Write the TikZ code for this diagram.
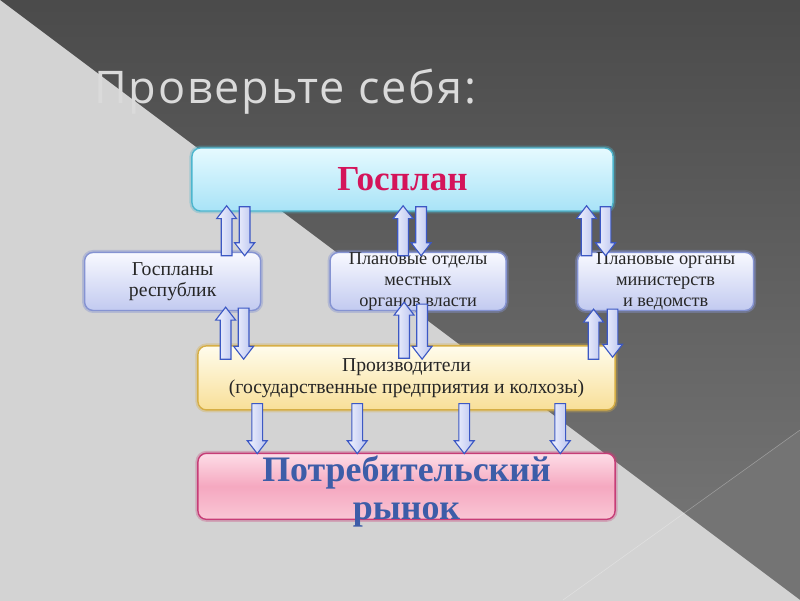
\documentclass[tikz,border=0pt]{standalone}
\usepackage{fontspec}
\setmainfont{Liberation Serif}
\newfontfamily\titlefont[LetterSpace=4]{Open Sans}
\usetikzlibrary{positioning,calc}

\definecolor{bgtop}{HTML}{4A4A4A}
\definecolor{bgmid}{HTML}{535353}
\definecolor{bgbot}{HTML}{7A7A7A}
\definecolor{bglow}{HTML}{747474}
\definecolor{bglight}{HTML}{D3D3D3}
\definecolor{titlegray}{HTML}{DADADA}
\definecolor{gostop}{HTML}{E6FAFF}
\definecolor{gosbot}{HTML}{A8E3F7}
\definecolor{gosline}{HTML}{4DB6CE}
\definecolor{gostext}{HTML}{D4145A}
\definecolor{midtop}{HTML}{F8F9FF}
\definecolor{midbot}{HTML}{C2CAF0}
\definecolor{midline}{HTML}{8593D2}
\definecolor{prodtop}{HTML}{FFFCEC}
\definecolor{prodbot}{HTML}{F8DF98}
\definecolor{prodline}{HTML}{D6AE45}
\definecolor{mkttop}{HTML}{FDDDE7}
\definecolor{mktbot}{HTML}{F9C6D5}
\definecolor{mktmid}{HTML}{F5A8C0}
\definecolor{mktline}{HTML}{C63D77}
\definecolor{mkttext}{HTML}{3D5DA8}
\definecolor{arrlight}{HTML}{F2F4FF}
\definecolor{arrdark}{HTML}{B8C2EE}
\definecolor{arrline}{HTML}{3C58C4}

\tikzset{
  panel/.style={rounded corners=6pt, line width=1pt, inner sep=0pt, align=center},
  gosbox/.style={panel, draw=gosline, top color=gostop, bottom color=gosbot,
    minimum width=10.525cm, minimum height=1.575cm, text=gostext,
    font=\bfseries\fontsize{25}{28}\selectfont,
    preaction={draw=gosline, line width=3.5pt, opacity=0.35}},
  midbox/.style={panel, draw=midline, top color=midtop, bottom color=midbot,
    minimum width=4.4cm, minimum height=1.45cm, text=black!85,
    font=\fontsize{13}{15}\selectfont,
    preaction={draw=midline, line width=3.5pt, opacity=0.4}},
  prodbox/.style={panel, draw=prodline, top color=prodtop, bottom color=prodbot,
    minimum width=10.425cm, minimum height=1.6cm, text=black!85,
    font=\fontsize{14}{15.5}\selectfont,
    preaction={draw=prodline, line width=3.5pt, opacity=0.35}},
  mktbox/.style={panel, draw=mktline, top color=mkttop, bottom color=mktbot,
    middle color=mktmid, minimum width=10.425cm, minimum height=1.65cm,
    text=mkttext, font=\bfseries\fontsize{25.5}{27}\selectfont,
    preaction={draw=mktline, line width=3.5pt, opacity=0.3}},
  fat/.style={draw=arrline, line width=0.8pt, line join=miter,
    left color=arrlight, right color=arrdark},
}

% block arrow from #1 (tail) to #2 (tip), vertical
\newcommand{\fatarrow}[2]{%
  \draw[fat] let \p1=(#1), \p2=(#2), \n1={\y2-sign(\y2-\y1)*9.2pt} in
    (\x1-3.8pt,\y1) -- (\x1-3.8pt,\n1+0pt) -- (\x1-7.1pt,\n1+0pt) -- (\x1,\y2)
    -- (\x1+7.1pt,\n1+0pt) -- (\x1+3.8pt,\n1+0pt) -- (\x1+3.8pt,\y1) -- cycle;}

\begin{document}
\begin{tikzpicture}[x=0.025cm, y=-0.025cm]
    \useasboundingbox (0,0) rectangle (800,600);
    % Background
    \shade[top color=bgtop, middle color=bgmid, bottom color=bgbot] (-8,-8) rectangle (808,608);
    \fill[bglow] (563,600) -- (808,424) -- (808,608) -- (557,608) -- cycle;
    \fill[bglight] (-8,-6) -- (808,606) -- (-8,606) -- cycle;
    \draw[white, opacity=0.3, line width=0.4pt] (563,600) -- (800,430);

    % Title
    \node (title) [anchor=base west, inner sep=0pt, text=titlegray,
      font=\titlefont\fontsize{32}{36}\selectfont] at (94,103) {Проверьте себя:};

    % Nodes
    \node (gosplan) [gosbox] at (402.5,179.5) {Госплан};
    \node (plan) [midbox, below=1cm of gosplan, xshift=0.39cm] {Плановые отделы\\местных\\органов власти};
    \node (resp) [midbox, left=1.7cm of plan, font=\fontsize{14}{15}\selectfont] {Госпланы\\республик};
    \node (mins) [midbox, right=1.75cm of plan] {Плановые органы\\министерств\\и ведомств};
    \node (prod) [prodbox, below=0.85cm of plan, xshift=-0.29cm] {Производители\\(государственные предприятия и колхозы)};
    \node (market) [mktbox, below=1.05cm of prod]
      {\raisebox{3.6pt}[0pt][0pt]{\begin{tabular}[t]{@{}c@{}}Потребительский\\рынок\end{tabular}}};

    % Arrows
    \fatarrow{$(resp.north)+(54,4)$}{$(gosplan.south)+(0,-6)$}
    \fatarrow{$(gosplan.south -| resp.north)+(72,-5)$}{$(resp.north)+(0,4)$}
    \fatarrow{$(plan.north)+(-15,4)$}{$(gosplan.south)+(0,-6)$}
    \fatarrow{$(gosplan.south -| plan.north)+(3,-5)$}{$(plan.north)+(0,4)$}
    \fatarrow{$(mins.north)+(-79,4)$}{$(gosplan.south)+(0,-6)$}
    \fatarrow{$(gosplan.south -| mins.north)+(-60,-5)$}{$(mins.north)+(0,4)$}

    \fatarrow{$(prod.north -| resp.south)+(53,14)$}{$(resp.south)+(0,-4)$}
    \fatarrow{$(resp.south)+(71,-3)$}{$(prod.north)+(0,14)$}
    \fatarrow{$(prod.north -| plan.south)+(-14,13)$}{$(plan.south)+(0,-9)$}
    \fatarrow{$(plan.south)+(4,-7)$}{$(prod.north)+(0,14)$}
    \fatarrow{$(prod.north -| mins.south)+(-72,14)$}{$(mins.south)+(0,-2)$}
    \fatarrow{$(mins.south)+(-53,-2)$}{$(prod.north)+(0,12)$}

    \foreach \dx in {60,160,267,363}
      \fatarrow{$(prod.south west)+(\dx,-7)$}{$(market.north)+(0,1)$};
\end{tikzpicture}
\end{document}
